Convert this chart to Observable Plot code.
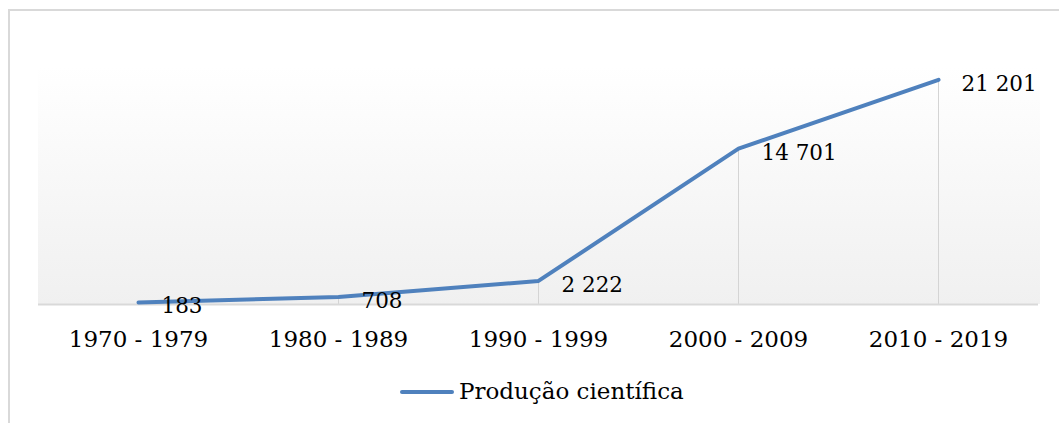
<!DOCTYPE html>
<html>
<head>
<meta charset="utf-8">
<script src="https://cdn.jsdelivr.net/npm/d3@7"></script>
<script src="https://cdn.jsdelivr.net/npm/@observablehq/plot@0.6"></script>
<style>
  html, body { margin: 0; padding: 0; background: #ffffff; }
  body { width: 1059px; height: 423px; position: relative; overflow: hidden; font-family: "DejaVu Serif", serif; }
  #frame { position: absolute; left: 8px; top: 9px; width: 1100px; height: 500px;
           border-top: 2px solid #d9d9d9; border-left: 2px solid #d9d9d9; }
  #chart { position: absolute; left: 0; top: 0; }
  #legend { position: absolute; left: 0; top: 372px; width: 1059px; height: 40px; }
  #legend .sw { position: absolute; left: 400px; top: 18px; width: 54px; height: 4px; border-radius: 2px; background: #4f81bd; }
  #legend .lb { position: absolute; left: 459px; top: 5px; font-size: 23px; line-height: 28px; color: #000; white-space: nowrap; }
</style>
</head>
<body>
<div id="frame"></div>
<div id="chart"></div>
<div id="legend"><div class="sw"></div><div class="lb">Produção científica</div></div>
<script>
const categories = ["1970 - 1979", "1980 - 1989", "1990 - 1999", "2000 - 2009", "2010 - 2019"];
const values = [183, 708, 2222, 14701, 21201];
const seriesName = "Produção científica";

const data = categories.map((c, i) => ({period: c, value: values[i]}));
const fmt = v => d3.format(",")(v).replace(/,/g, " ");

const background = (index, scales, values, dims, context) => {
  const ns = "http://www.w3.org/2000/svg";
  const g = document.createElementNS(ns, "g");
  const defs = document.createElementNS(ns, "defs");
  const grad = document.createElementNS(ns, "linearGradient");
  grad.setAttribute("id", "bggrad");
  grad.setAttribute("x1", "0"); grad.setAttribute("y1", "0");
  grad.setAttribute("x2", "0"); grad.setAttribute("y2", "1");
  [["0", "#ffffff"], ["0.1", "#ffffff"], ["1", "#f0f0f0"]].forEach(([o, c]) => {
    const s = document.createElementNS(ns, "stop");
    s.setAttribute("offset", o); s.setAttribute("stop-color", c);
    grad.appendChild(s);
  });
  defs.appendChild(grad);
  g.appendChild(defs);
  const r = document.createElementNS(ns, "rect");
  r.setAttribute("x", dims.marginLeft);
  r.setAttribute("y", dims.marginTop);
  r.setAttribute("width", dims.width - dims.marginLeft - dims.marginRight + 2);
  r.setAttribute("height", dims.height - dims.marginTop - dims.marginBottom);
  r.setAttribute("fill", "url(#bggrad)");
  g.appendChild(r);
  return g;
};

const chart = Plot.plot({
  width: 1059,
  height: 365,
  marginLeft: 38,
  marginRight: 21,
  marginTop: 39,
  marginBottom: 61,
  style: {fontFamily: "DejaVu Serif, serif", background: "transparent", color: "#000"},
  x: {type: "point", domain: categories, padding: 0.5, label: null},
  y: {domain: [0, 25000], axis: null},
  marks: [
    background,
    Plot.ruleX(data, {x: "period", y1: 0, y2: "value", stroke: "#d4d4d4", strokeWidth: 1}),
    Plot.ruleY([0], {stroke: "#d9d9d9", strokeWidth: 2}),
    Plot.line(data, {x: "period", y: "value", stroke: "#4f81bd", strokeWidth: 4, strokeLinecap: "round", strokeLinejoin: "round"}),
    Plot.text(data, {x: "period", y: "value", text: d => fmt(d.value), dx: 23, dy: 4, textAnchor: "start", fontSize: 21.5, fill: "#000"}),
    Plot.axisX({tickSize: 0, tickPadding: 26, fontSize: 23, fill: "#000"})
  ]
});
document.getElementById("chart").appendChild(chart);
</script>
</body>
</html>
